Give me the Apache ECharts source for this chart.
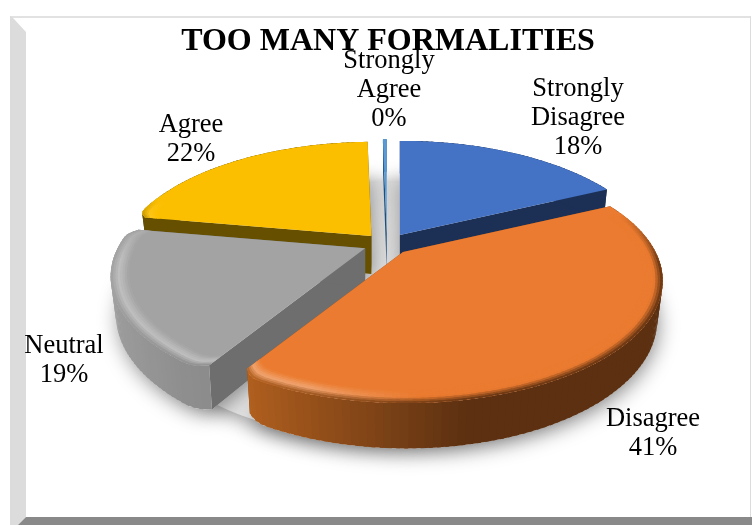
<!DOCTYPE html>
<html>
<head>
<meta charset="utf-8">
<style>html,body{margin:0;padding:0;background:#fff}#chart{width:752px;height:525px}</style>
<script src="https://cdn.jsdelivr.net/npm/echarts@6/dist/echarts.min.js"></script>
</head>
<body>
<div id="chart"></div>
<script>
// Survey responses, clockwise from twelve o'clock
const chartTitle = 'TOO MANY FORMALITIES';
const categories = ['Strongly Disagree', 'Disagree', 'Neutral', 'Agree', 'Strongly Agree'];
const values = [18, 41, 19, 22, 0.3];

// Painter's order for the tilted pie: far slices first
const drawOrder = [0, 3, 4, 2, 1];

// Slice colours
const topColors = ['#4472c4', '#ea7b30', '#a3a3a3', '#fcbf00', '#5b9bd5'];
const edgeColors = ['#1c3056', '#8a4a1a', '#6e6e6e', '#665000', '#1f4e79'];
const wallLeft = ['#1c3056', '#b5621f', '#a0a0a0', '#665000', '#2f6ea5'];
const wallRight = ['#1c3056', '#5c3011', '#8a8a8a', '#665000', '#1f4e79'];
const wallRange = [[-1, 1], [-0.55, 0.2], [-1, -0.5], [-1, 1], [-1, 1]];

// Label anchors (centre x, centre y) and line breaks
const labelAnchors = [[578, 118], [653, 434], [64, 360.5], [191, 140], [389, 90]];
const labelNames = ['Strongly\nDisagree', 'Disagree', 'Neutral', 'Agree', 'Strongly\nAgree'];

// Projection of the pie plane onto the page
const view = { cx: 387, cy: 244, B: 250, A: 116, p: 0.2327, r: -0.01, H: 38, ex: 24, ey: 10.6, base: 0.98 };
const bevelWidth = 0.07;
const bevelSteps = 8;
const arcStep = 1.5;

const total = values.reduce((a, b) => a + b, 0);
const slices = [];
let running = 0;
values.forEach((v, i) => {
  const a0 = running / total * 360;
  running += v;
  const a1 = running / total * 360;
  const mid = (a0 + a1) / 2 * Math.PI / 180;
  slices.push({ a0, a1, ox: view.ex * Math.sin(mid), oy: -view.ey * Math.cos(mid), pct: Math.round(v / total * 100) });
});

const clamp = (v) => Math.max(0, Math.min(1, v));
function rgb(hex) {
  return [1, 3, 5].map((k) => parseInt(hex.slice(k, k + 2), 16));
}
function mix(a, b, t) {
  return a.map((c, k) => c + (b[k] - c) * t);
}
function css(c) {
  return 'rgb(' + c.map(Math.round).join(',') + ')';
}

// Plane point (unit disc) to page coordinates, on the top face or on the ground
function project(s, X, Y, ground) {
  const k = ground ? view.base : 1;
  const x = X * k, y = Y * k;
  const w = 1 + view.p * y + view.r * x;
  return [
    view.cx + s.ox + view.B * x / w,
    view.cy + s.oy - view.A * y / w + (ground ? view.H / w : 0)
  ];
}
// Rim radius: corners facing the viewer or the left are rounded off
function rimRadius(s, deg, ground) {
  if (s.a1 - s.a0 < 5 || s.a1 - s.a0 >= 360) return 1;
  const t = deg * Math.PI / 180;
  const cos = Math.cos(t), sin = Math.sin(t);
  if (!(cos < -0.3 || (sin < 0 && cos < 0.6))) return 1;
  const d = Math.min(deg - s.a0, s.a1 - deg);
  const delta = ground ? 5 : 4;
  const depth = ground ? 0.03 : 0.035;
  return d < delta ? 1 - depth * Math.pow(1 - d / delta, 2) : 1;
}
function arcAngles(s) {
  const list = [];
  const n = Math.max(1, Math.ceil((s.a1 - s.a0) / arcStep));
  for (let i = 0; i <= n; i++) list.push(s.a0 + (s.a1 - s.a0) * i / n);
  return list;
}
function rimPoint(s, deg, scale, ground) {
  const t = deg * Math.PI / 180;
  const r = rimRadius(s, deg, ground) * scale;
  return project(s, r * Math.sin(t), r * Math.cos(t), ground);
}
function poly(points, fill, extra) {
  return { type: 'polygon', silent: true, shape: { points }, style: Object.assign({ fill }, extra || {}) };
}
function wallColor(i, X) {
  const [lo, hi] = wallRange[i];
  return mix(rgb(wallLeft[i]), rgb(wallRight[i]), clamp((X - lo) / (hi - lo)));
}

function renderSlice(params, api) {
  const i = api.value(0);
  const s = slices[i];
  const angles = arcAngles(s);
  const children = [];
  const apexTop = project(s, 0, 0, false);
  const apexLow = project(s, 0, 0, true);
  const overlap = 0.7;

  // Radial faces
  [s.a0, s.a1].forEach((deg) => {
    children.push(poly([apexTop, rimPoint(s, deg, 1, false), rimPoint(s, deg, 1, true), apexLow], edgeColors[i]));
  });
  // Outer wall, each cell lapping under the next one
  for (let k = 0; k < angles.length - 1; k++) {
    const d0 = angles[k], d1 = Math.min(angles[k + 1] + overlap, s.a1);
    const X = Math.sin((angles[k] + angles[k + 1]) / 2 * Math.PI / 180);
    children.push(poly([
      rimPoint(s, d0, 1, false), rimPoint(s, d1, 1, false),
      rimPoint(s, d1, 1, true), rimPoint(s, d0, 1, true)
    ], css(wallColor(i, X))));
  }
  // Top face
  children.push(poly([apexTop].concat(angles.map((d) => rimPoint(s, d, 1, false))), topColors[i]));
  // Rounded rim shading, painted from the inner ring outwards
  const top = rgb(topColors[i]);
  for (let b = 0; b < bevelSteps; b++) {
    const u = (b + 0.5) / bevelSteps;
    const r0 = 1 - bevelWidth * (1 - b / bevelSteps);
    const r1 = 1 - bevelWidth * (1 - Math.min(1, (b + 1.4) / bevelSteps));
    for (let k = 0; k < angles.length - 1; k++) {
      const d0 = angles[k], d1 = Math.min(angles[k + 1] + overlap, s.a1);
      const t = (angles[k] + angles[k + 1]) / 2 * Math.PI / 180;
      const X = Math.sin(t), Y = Math.cos(t);
      const amount = clamp((0.35 - Y) / 0.45);
      if (amount <= 0) continue;
      const hi = mix(top, [255, 255, 255], 0.3 * clamp((0.05 - X) / 0.35));
      const wall = wallColor(i, X);
      const c = u < 0.55 ? mix(top, hi, u / 0.55) : mix(hi, wall, (u - 0.55) / 0.45);
      children.push(poly([
        rimPoint(s, d0, r0, false), rimPoint(s, d1, r0, false),
        rimPoint(s, d1, r1, false), rimPoint(s, d0, r1, false)
      ], css(mix(top, c, amount))));
    }
  }
  return { type: 'group', children };
}

// Soft cast shadow on the ground: the whole disc plus each pulled-out slice
const shadowStyle = { shadowBlur: 20, shadowColor: 'rgba(0,0,0,0.4)', shadowOffsetX: 2, shadowOffsetY: 5 };
function renderShadow(params, api) {
  const s = slices[api.value(0)];
  const children = [];
  if (params.dataIndex === 0) {
    const still = { a0: 0, a1: 360, ox: 0, oy: 0 };
    children.push(poly(arcAngles(still).map((d) => rimPoint(still, d, 1, true)), '#e4e4e4', shadowStyle));
  }
  const pts = [project(s, 0, 0, true)].concat(arcAngles(s).map((d) => rimPoint(s, d, 1, true)));
  children.push(poly(pts, '#e4e4e4', shadowStyle));
  return { type: 'group', children };
}

function renderLabel(params, api) {
  const i = api.value(0);
  return {
    type: 'text',
    silent: true,
    x: labelAnchors[i][0],
    y: labelAnchors[i][1],
    style: {
      text: labelNames[i] + '\n' + slices[i].pct + '%',
      fill: '#000',
      font: '26.5px "Liberation Serif"',
      lineHeight: 29,
      align: 'center',
      verticalAlign: 'middle'
    }
  };
}

const orderedData = drawOrder.map((i) => [i, values[i]]);
const frameW = 752, frameH = 525;

const chart = echarts.init(document.getElementById('chart'), null, { renderer: 'canvas' });
chart.setOption({
  animation: false,
  backgroundColor: '#fff',
  title: {
    text: chartTitle,
    left: 383,
    top: 19,
    textAlign: 'center',
    textStyle: { fontFamily: 'Liberation Serif', fontSize: 32, fontWeight: 'bold', color: '#000', lineHeight: 36 }
  },
  // Bevelled picture frame
  graphic: [
    { type: 'rect', silent: true, shape: { x: 10, y: 16, width: frameW - 12, height: 2 }, style: { fill: '#e2e2e2' } },
    { type: 'rect', silent: true, shape: { x: 750, y: 16, width: 1, height: 501 }, style: { fill: '#dcdcdc' } },
    { type: 'polygon', silent: true, shape: { points: [[10, 16], [13, 18], [26, 32], [26, 517], [18, frameH], [10, frameH]] }, style: { fill: '#dcdcdc' } },
    { type: 'polygon', silent: true, shape: { points: [[26, 517], [frameW, 517], [frameW, frameH], [18, frameH]] }, style: { fill: '#898989' } }
  ],
  series: [
    { type: 'custom', coordinateSystem: 'none', z: 1, data: orderedData, renderItem: renderShadow, silent: true },
    { type: 'custom', coordinateSystem: 'none', z: 2, data: orderedData, renderItem: renderSlice, silent: true },
    { type: 'custom', coordinateSystem: 'none', z: 3, data: orderedData, renderItem: renderLabel, silent: true }
  ]
});
</script>
</body>
</html>
